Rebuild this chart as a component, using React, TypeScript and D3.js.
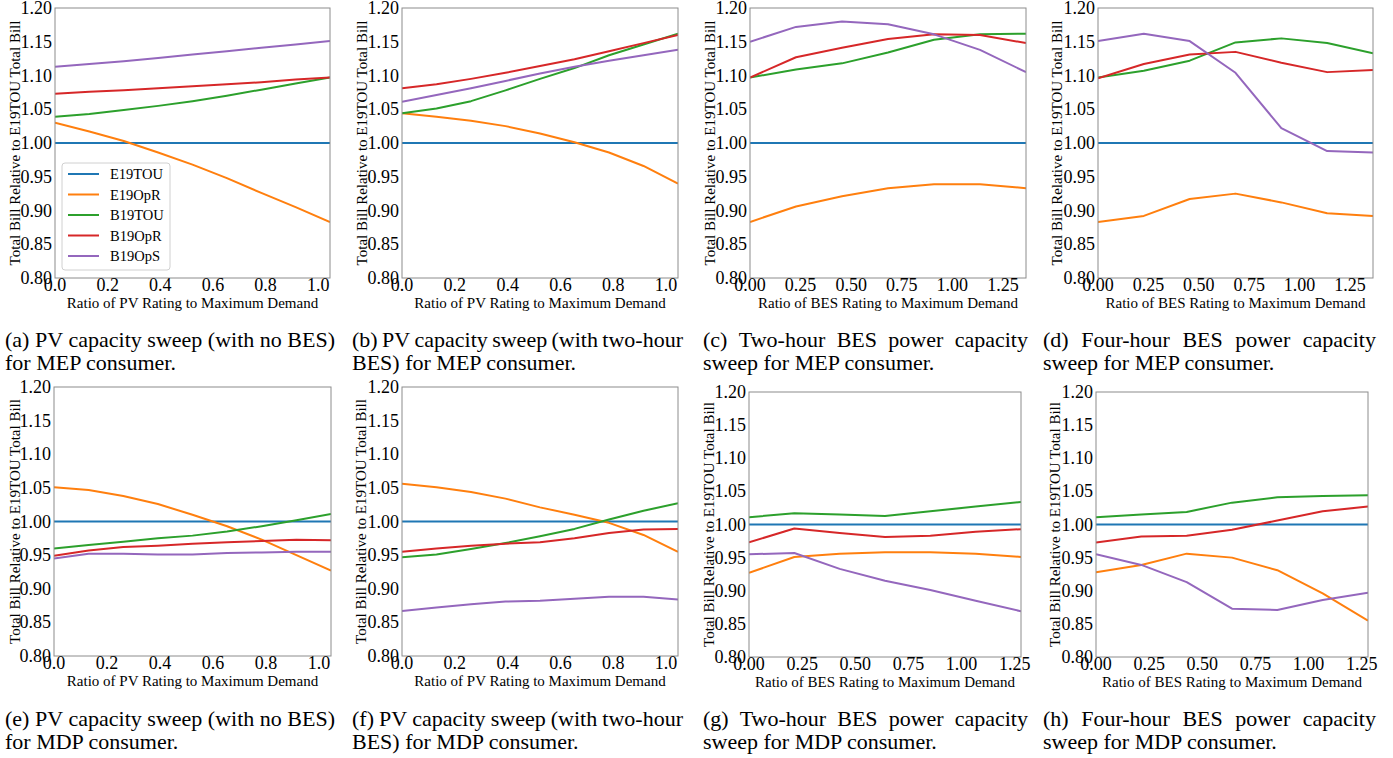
import React from 'react';
import * as d3 from 'd3';

// ---------------- DATA ----------------
const SERIES = ['E19TOU', 'E19OpR', 'B19TOU', 'B19OpR', 'B19OpS'];
const COLORS = ['#1f77b4', '#ff7f0e', '#2ca02c', '#d62728', '#9467bd'];

const PV_X = [0, 0.1306, 0.2613, 0.3919, 0.5225, 0.6531, 0.7838, 0.9144, 1.045];
const BES_X_MEP = [0, 0.2273, 0.4547, 0.682, 0.9093, 1.1367, 1.364];
const BES_X_MDP = [0, 0.2133, 0.4267, 0.64, 0.8533, 1.0667, 1.28];

const Y_TICKS = [0.8, 0.85, 0.9, 0.95, 1.0, 1.05, 1.1, 1.15, 1.2];
const PV_TICKS = [0, 0.2, 0.4, 0.6, 0.8, 1.0];
const BES_TICKS = [0, 0.25, 0.5, 0.75, 1.0, 1.25];

const E19TOU_PV = [1, 1, 1, 1, 1, 1, 1, 1, 1];
const E19TOU_BES = [1, 1, 1, 1, 1, 1, 1];

// (a) PV sweep, no BES, MEP
const A_E19OPR = [1.030, 1.017, 1.003, 0.986, 0.968, 0.948, 0.926, 0.905, 0.883];
const A_B19TOU = [1.039, 1.043, 1.049, 1.055, 1.062, 1.070, 1.079, 1.088, 1.097];
const A_B19OPR = [1.073, 1.076, 1.078, 1.081, 1.084, 1.087, 1.090, 1.094, 1.097];
const A_B19OPS = [1.113, 1.117, 1.121, 1.126, 1.131, 1.136, 1.141, 1.146, 1.151];

// (b) PV sweep, two-hour BES, MEP
const B_E19OPR = [1.044, 1.039, 1.033, 1.025, 1.014, 1.001, 0.986, 0.966, 0.940];
const B_B19TOU = [1.044, 1.051, 1.062, 1.078, 1.095, 1.111, 1.130, 1.146, 1.162];
const B_B19OPR = [1.081, 1.087, 1.095, 1.104, 1.114, 1.124, 1.136, 1.148, 1.160];
const B_B19OPS = [1.061, 1.071, 1.081, 1.092, 1.103, 1.113, 1.122, 1.130, 1.138];

// (c) two-hour BES sweep, MEP
const C_E19OPR = [0.883, 0.906, 0.921, 0.933, 0.939, 0.939, 0.933];
const C_B19TOU = [1.097, 1.109, 1.118, 1.134, 1.153, 1.161, 1.162];
const C_B19OPR = [1.097, 1.127, 1.141, 1.154, 1.161, 1.160, 1.148];
const C_B19OPS = [1.150, 1.172, 1.180, 1.176, 1.161, 1.138, 1.105];

// (d) four-hour BES sweep, MEP
const D_E19OPR = [0.883, 0.892, 0.917, 0.925, 0.912, 0.896, 0.892];
const D_B19TOU = [1.097, 1.107, 1.122, 1.149, 1.155, 1.148, 1.133];
const D_B19OPR = [1.096, 1.117, 1.131, 1.135, 1.119, 1.105, 1.108];
const D_B19OPS = [1.151, 1.162, 1.151, 1.104, 1.022, 0.988, 0.986];

// (e) PV sweep, no BES, MDP
const E_E19OPR = [1.051, 1.047, 1.038, 1.026, 1.010, 0.993, 0.973, 0.950, 0.927];
const E_B19TOU = [0.960, 0.965, 0.970, 0.975, 0.979, 0.985, 0.993, 1.002, 1.011];
const E_B19OPR = [0.949, 0.957, 0.962, 0.964, 0.967, 0.969, 0.971, 0.973, 0.972];
const E_B19OPS = [0.945, 0.952, 0.952, 0.951, 0.951, 0.953, 0.954, 0.955, 0.955];

// (f) PV sweep, two-hour BES, MDP
const F_E19OPR = [1.056, 1.051, 1.044, 1.034, 1.021, 1.010, 0.998, 0.980, 0.955];
const F_B19TOU = [0.947, 0.951, 0.959, 0.968, 0.978, 0.989, 1.003, 1.016, 1.027];
const F_B19OPR = [0.955, 0.960, 0.964, 0.967, 0.969, 0.975, 0.983, 0.988, 0.989];
const F_B19OPS = [0.867, 0.872, 0.877, 0.881, 0.882, 0.885, 0.888, 0.888, 0.884];

// (g) two-hour BES sweep, MDP
const G_E19OPR = [0.927, 0.951, 0.956, 0.958, 0.958, 0.956, 0.951];
const G_B19TOU = [1.011, 1.017, 1.015, 1.013, 1.020, 1.027, 1.034];
const G_B19OPR = [0.973, 0.994, 0.987, 0.981, 0.983, 0.989, 0.993];
const G_B19OPS = [0.955, 0.957, 0.933, 0.915, 0.901, 0.885, 0.869];

// (h) four-hour BES sweep, MDP
const H_E19OPR = [0.928, 0.939, 0.956, 0.950, 0.931, 0.896, 0.855];
const H_B19TOU = [1.011, 1.015, 1.019, 1.033, 1.041, 1.043, 1.044];
const H_B19OPR = [0.973, 0.982, 0.983, 0.992, 1.006, 1.020, 1.027];
const H_B19OPS = [0.955, 0.939, 0.913, 0.873, 0.871, 0.886, 0.897];

const PV_LABEL = 'Ratio of PV Rating to Maximum Demand';
const BES_LABEL = 'Ratio of BES Rating to Maximum Demand';
const Y_LABEL = 'Total Bill Relative to E19TOU Total Bill';

const CAPTIONS = [
  ['(a) PV capacity sweep (with no BES)', 'for MEP consumer.'],
  ['(b) PV capacity sweep (with two-hour', 'BES) for MEP consumer.'],
  ['(c) Two-hour BES power capacity', 'sweep for MEP consumer.'],
  ['(d) Four-hour BES power capacity', 'sweep for MEP consumer.'],
  ['(e) PV capacity sweep (with no BES)', 'for MDP consumer.'],
  ['(f) PV capacity sweep (with two-hour', 'BES) for MDP consumer.'],
  ['(g) Two-hour BES power capacity', 'sweep for MDP consumer.'],
  ['(h) Four-hour BES power capacity', 'sweep for MDP consumer.'],
];

const PANELS = [
  { xs: PV_X, xmax: 1.045, ticks: PV_TICKS, fmt: '.1f', xlabel: PV_LABEL, ys: [E19TOU_PV, A_E19OPR, A_B19TOU, A_B19OPR, A_B19OPS], legend: true },
  { xs: PV_X, xmax: 1.045, ticks: PV_TICKS, fmt: '.1f', xlabel: PV_LABEL, ys: [E19TOU_PV, B_E19OPR, B_B19TOU, B_B19OPR, B_B19OPS] },
  { xs: BES_X_MEP, xmax: 1.364, ticks: BES_TICKS, fmt: '.2f', xlabel: BES_LABEL, ys: [E19TOU_BES, C_E19OPR, C_B19TOU, C_B19OPR, C_B19OPS] },
  { xs: BES_X_MEP, xmax: 1.364, ticks: BES_TICKS, fmt: '.2f', xlabel: BES_LABEL, ys: [E19TOU_BES, D_E19OPR, D_B19TOU, D_B19OPR, D_B19OPS] },
  { xs: PV_X, xmax: 1.045, ticks: PV_TICKS, fmt: '.1f', xlabel: PV_LABEL, ys: [E19TOU_PV, E_E19OPR, E_B19TOU, E_B19OPR, E_B19OPS] },
  { xs: PV_X, xmax: 1.045, ticks: PV_TICKS, fmt: '.1f', xlabel: PV_LABEL, ys: [E19TOU_PV, F_E19OPR, F_B19TOU, F_B19OPR, F_B19OPS] },
  { xs: BES_X_MDP, xmax: 1.28, ticks: BES_TICKS, fmt: '.2f', xlabel: BES_LABEL, ys: [E19TOU_BES, G_E19OPR, G_B19TOU, G_B19OPR, G_B19OPS] },
  { xs: BES_X_MDP, xmax: 1.28, ticks: BES_TICKS, fmt: '.2f', xlabel: BES_LABEL, ys: [E19TOU_BES, H_E19OPR, H_B19TOU, H_B19OPR, H_B19OPS] },
];

// ---------------- LAYOUT ----------------
const BOXES = [
  { l: 55, r: 330, t: 8, b: 278, ylab: 15 },
  { l: 402, r: 678, t: 8, b: 278, ylab: 362 },
  { l: 750, r: 1026, t: 8, b: 278, ylab: 710 },
  { l: 1098, r: 1373, t: 8, b: 278, ylab: 1057 },
  { l: 54, r: 331, t: 387, b: 656, ylab: 15 },
  { l: 402, r: 678, t: 387, b: 656, ylab: 361 },
  { l: 749, r: 1021, t: 392, b: 657, ylab: 709 },
  { l: 1096, r: 1368, t: 392, b: 657, ylab: 1055 },
];
const CAP_X = [[5, 335], [352, 683], [703, 1028], [1043, 1376]];
const CAP_BASE = [[347, 370], [726, 749]];

const FONT = '"Liberation Serif", "Times New Roman", Times, serif';
const TICK_SIZE = 18;
const LABEL_SIZE = 15;
const LEGEND_SIZE = 14.5;
const CAP_SIZE = 22;

let measureCtx: CanvasRenderingContext2D | null = null;
function textWidth(t: string, size: number): number {
  if (!measureCtx) measureCtx = document.createElement('canvas').getContext('2d');
  if (!measureCtx) return t.length * size * 0.45;
  measureCtx.font = `${size}px "Liberation Serif"`;
  return measureCtx.measureText(t).width;
}

function JustifiedLine({ text, x0, x1, y, size }: { text: string; x0: number; x1: number; y: number; size: number }) {
  const words = text.split(' ');
  const widths = words.map((w) => textWidth(w, size));
  const total = widths.reduce((a, b) => a + b, 0);
  const gap = words.length > 1 ? (x1 - x0 - total) / (words.length - 1) : 0;
  let cx = x0;
  return (
    <g>
      {words.map((w, i) => {
        const xx = cx;
        cx += widths[i] + gap;
        return (
          <text key={i} x={xx} y={y} fontSize={size} fontFamily={FONT} fill="#000">
            {w}
          </text>
        );
      })}
    </g>
  );
}

function Legend({ left, top }: { left: number; top: number }) {
  const rowH = 20.5;
  const w = 108;
  const h = 107;
  return (
    <g>
      <rect x={left} y={top} width={w} height={h} rx={3} ry={3} fill="#fff" fillOpacity={0.85} stroke="#d0d0d0" strokeWidth={1} />
      {SERIES.map((s, i) => {
        const yy = top + 11 + i * rowH;
        return (
          <g key={s}>
            <line x1={left + 6} x2={left + 37} y1={yy} y2={yy} stroke={COLORS[i]} strokeWidth={2} />
            <text x={left + 48} y={yy} dy="0.35em" fontSize={LEGEND_SIZE} fontFamily={FONT} fill="#000">
              {s}
            </text>
          </g>
        );
      })}
    </g>
  );
}

function Panel({ idx }: { idx: number }) {
  const p = PANELS[idx];
  const box = BOXES[idx];
  const x = d3.scaleLinear().domain([0, p.xmax]).range([box.l, box.r]);
  const y = d3.scaleLinear().domain([0.8, 1.2]).range([box.b, box.t]);
  const fx = d3.format(p.fmt);
  const fy = d3.format('.2f');
  const line = d3
    .line<number>()
    .x((_, i) => x(p.xs[i]))
    .y((d) => y(d));
  const clipId = `clip${idx}`;
  const cy = (box.t + box.b) / 2;
  return (
    <g>
      <defs>
        <clipPath id={clipId}>
          <rect x={box.l} y={box.t} width={box.r - box.l} height={box.b - box.t} />
        </clipPath>
      </defs>
      <g clipPath={`url(#${clipId})`}>
        {p.ys.map((vals, si) => (
          <path key={si} d={line(vals) || ''} fill="none" stroke={COLORS[si]} strokeWidth={2} strokeLinejoin="round" />
        ))}
      </g>
      <rect x={box.l} y={box.t} width={box.r - box.l} height={box.b - box.t} fill="none" stroke="#8c8c8c" strokeWidth={1} />
      {Y_TICKS.map((t) => (
        <text key={t} x={box.l - 3} y={y(t)} dy="0.34em" textAnchor="end" fontSize={TICK_SIZE} fontFamily={FONT} fill="#000">
          {fy(t)}
        </text>
      ))}
      {p.ticks.map((t) => (
        <text key={t} x={x(t)} y={box.b + 13} textAnchor="middle" fontSize={TICK_SIZE} fontFamily={FONT} fill="#000">
          {fx(t)}
        </text>
      ))}
      <text x={(box.l + box.r) / 2} y={box.b + 30} textAnchor="middle" fontSize={LABEL_SIZE} fontFamily={FONT} fill="#000">
        {p.xlabel}
      </text>
      <text
        transform={`translate(${box.ylab + 5},${cy}) rotate(-90)`}
        textAnchor="middle"
        fontSize={LABEL_SIZE}
        fontFamily={FONT}
        fill="#000"
      >
        {Y_LABEL}
      </text>
      {p.legend ? <Legend left={box.l + 7} top={box.t + 155} /> : null}
    </g>
  );
}

export default function App() {
  return (
    <svg
      width={1393}
      height={758}
      viewBox="0 0 1393 758"
      style={{ position: 'absolute', left: 0, top: 0, background: '#fff' }}
    >
      <rect x={0} y={0} width={1393} height={758} fill="#fff" />
      {PANELS.map((_, i) => (
        <Panel key={i} idx={i} />
      ))}
      {CAPTIONS.map((c, i) => {
        const col = i % 4;
        const row = Math.floor(i / 4);
        const [x0, x1] = CAP_X[col];
        const [b1, b2] = CAP_BASE[row];
        return (
          <g key={i}>
            <JustifiedLine text={c[0]} x0={x0} x1={x1} y={b1} size={CAP_SIZE} />
            <text x={x0} y={b2} fontSize={CAP_SIZE} fontFamily={FONT} fill="#000">
              {c[1]}
            </text>
          </g>
        );
      })}
    </svg>
  );
}
